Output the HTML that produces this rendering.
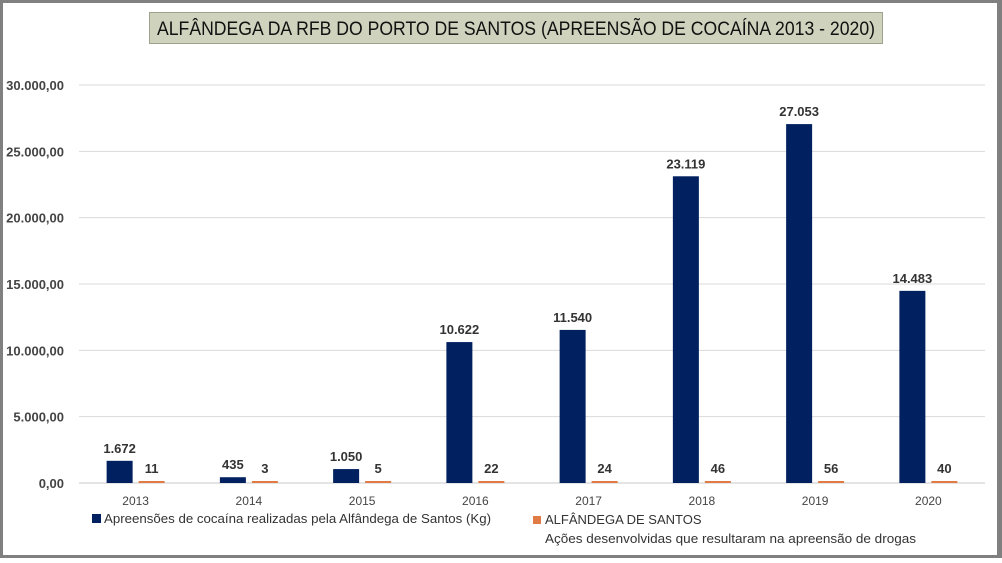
<!DOCTYPE html>
<html><head><meta charset="utf-8"><style>
body{margin:0;width:1002px;height:558px;overflow:hidden;background:#fff;font-family:"Liberation Sans",sans-serif}
</style></head><body>
<svg width="1002" height="558" id="svg" font-family="Liberation Sans, sans-serif">
<rect x="0" y="0" width="1002" height="558" fill="#808080"/>
<rect x="3" y="3" width="994" height="552" fill="#fff"/>
<rect x="149.5" y="12.5" width="733" height="31" fill="#cfd3bd" stroke="#9ea38c"/>
<text x="157" y="35" textLength="718" lengthAdjust="spacingAndGlyphs" font-size="19" fill="#111">ALFÂNDEGA DA RFB DO PORTO DE SANTOS  (APREENSÃO DE COCAÍNA 2013 - 2020)</text>
<g id="grid"></g><g id="bars"></g>
<rect x="92" y="514" width="9" height="9" fill="#002060"/>
<text x="104" y="523" textLength="387" lengthAdjust="spacingAndGlyphs" font-size="13" fill="#333">Apreensões de cocaína realizadas pela Alfândega de Santos (Kg)</text>
<rect x="533" y="516" width="8" height="8" fill="#e07b45"/>
<text x="545" y="524" font-size="13" fill="#333">ALFÂNDEGA DE SANTOS</text>
<text x="545" y="543" textLength="371" lengthAdjust="spacingAndGlyphs" font-size="13" fill="#333">Ações desenvolvidas que resultaram na apreensão de drogas</text>
</svg>
<script>
const categories=["2013","2014","2015","2016","2017","2018","2019","2020"];
const apreensoes=[1672,435,1050,10622,11540,23119,27053,14483];
const acoes=[11,3,5,22,24,46,56,40];
const apreensoesLabels=["1.672","435","1.050","10.622","11.540","23.119","27.053","14.483"];
const yTicks=[0,5000,10000,15000,20000,25000,30000];
const yTickLabels=["0,00","5.000,00","10.000,00","15.000,00","20.000,00","25.000,00","30.000,00"];
const NS="http://www.w3.org/2000/svg";
const x0=79,x1=985,yBase=483,yTop=85,yMax=30000;
const y=v=>yBase-(v/yMax)*(yBase-yTop);
const band=(x1-x0)/categories.length;
const cx=i=>x0+band*(i+0.5);
function mk(t,a,p){const e=document.createElementNS(NS,t);for(const k in a)e.setAttribute(k,a[k]);p.appendChild(e);return e;}
const grid=document.getElementById('grid'),bars=document.getElementById('bars');
yTicks.forEach((v,i)=>{
 const l=mk('line',{x1:x0,x2:x1,y1:y(v),y2:y(v),stroke:i==0?'#c8c8c8':'#d9d9d9','stroke-width':1},grid);
 
 
 const t=mk('text',{x:64,y:y(v)+5,'text-anchor':'end','font-size':13,'font-weight':'bold',fill:'#444'},grid);
 t.textContent=yTickLabels[i];
 
 
});
const bw=26,gap=6;
categories.forEach((c,i)=>{
 const xa=cx(i)-gap/2-bw, xb=cx(i)+gap/2;
 const b=mk('rect',{x:xa,y:y(apreensoes[i]),width:bw,height:yBase-y(apreensoes[i]),fill:'#002060'},bars);
 
 
 const h=Math.max(2,yBase-y(acoes[i]));
 const o=mk('rect',{x:xb,y:yBase-h,width:bw,height:h,fill:'#e07b45'},bars);
 
 
 const la=mk('text',{x:xa+bw/2,y:y(apreensoes[i])-8,'text-anchor':'middle','font-size':13,'font-weight':'bold',fill:'#333'},bars);
 la.textContent=apreensoesLabels[i];
 
 
 const lb=mk('text',{x:xb+bw/2,y:yBase-h-8,'text-anchor':'middle','font-size':13,'font-weight':'bold',fill:'#333'},bars);
 lb.textContent=String(acoes[i]);
 
 
 const xl=mk('text',{x:cx(i),y:505,'text-anchor':'middle','font-size':12,fill:'#444'},bars);
 xl.textContent=c;
 
 
});
</script>
</body></html>
